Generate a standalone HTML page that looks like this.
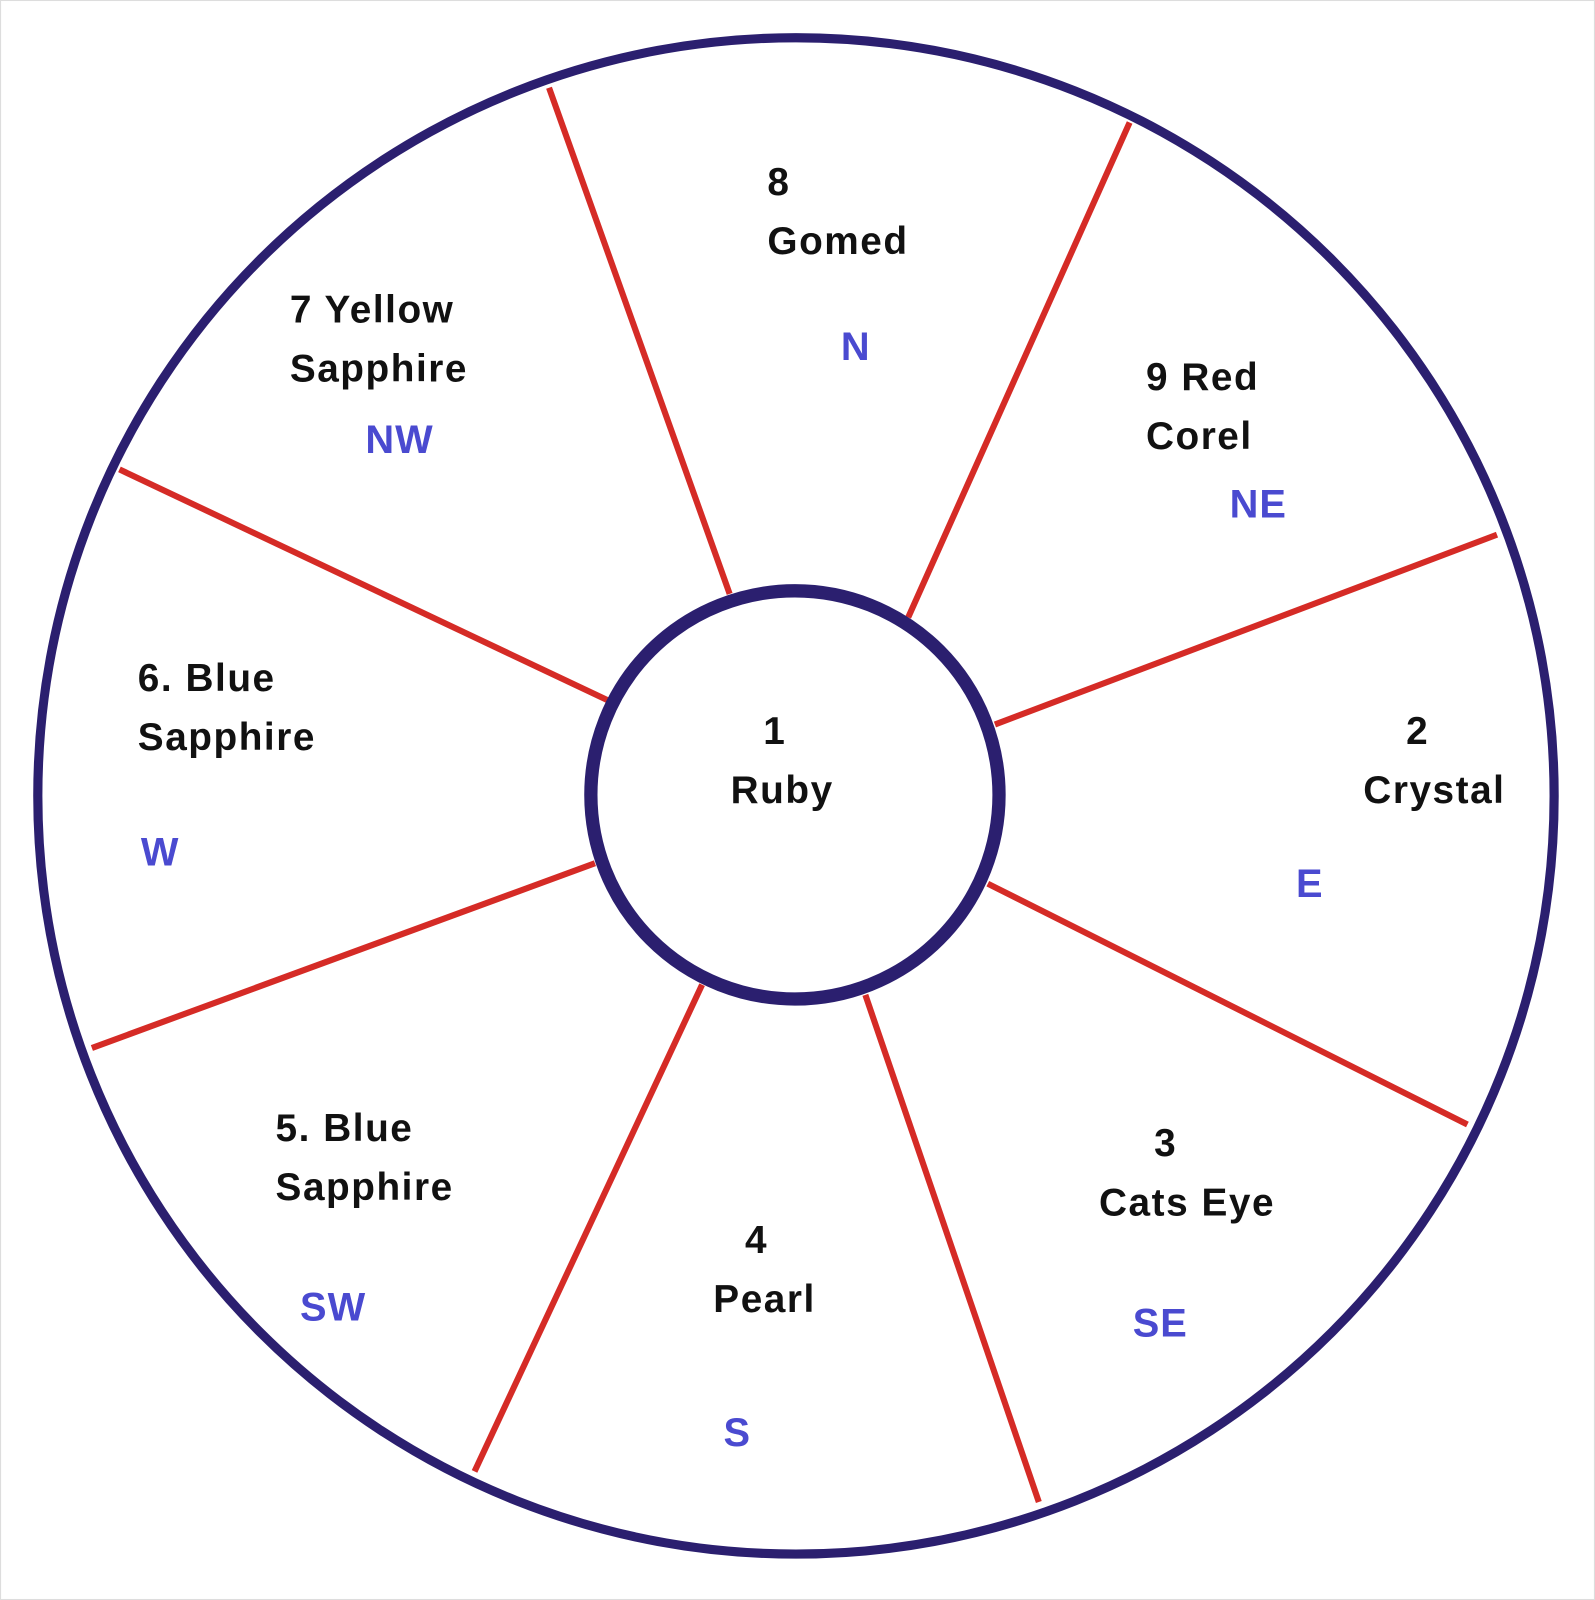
<!DOCTYPE html>
<html><head><meta charset="utf-8"><style>
html,body{margin:0;padding:0;background:#fff;}
svg{display:block;}
text{font-family:"Liberation Sans",sans-serif;font-weight:bold;}
.lbl{font-size:38px;fill:#111;letter-spacing:1.5px;}
.dir{font-size:39px;fill:#4a4ad0;letter-spacing:1px;}
</style></head><body>
<svg width="1595" height="1600" viewBox="0 0 1563 1568" xmlns="http://www.w3.org/2000/svg">
<rect x="0" y="0" width="1563" height="1568" fill="#fff" stroke="#ddd" stroke-width="2"/>
<g stroke="#d52b26" stroke-width="6">
<line x1="715" y1="582" x2="538" y2="86"/>
<line x1="890" y1="605" x2="1107" y2="120"/>
<line x1="975" y1="710" x2="1467" y2="524"/>
<line x1="968" y1="866" x2="1438" y2="1102"/>
<line x1="848" y1="975" x2="1018" y2="1472"/>
<line x1="688" y1="965" x2="465" y2="1442"/>
<line x1="583" y1="846" x2="90" y2="1027"/>
<line x1="595" y1="686" x2="117" y2="460"/>
</g>
<circle cx="780" cy="780" r="743" fill="none" stroke="#2b1f6f" stroke-width="9"/>
<circle cx="779" cy="779" r="200" fill="#fff" stroke="#2b1f6f" stroke-width="13"/>
<g class="lbl">
<text x="752" y="191">8</text>
<text x="752" y="249">Gomed</text>
<text x="284" y="316">7 Yellow</text>
<text x="284" y="374">Sapphire</text>
<text x="1123" y="382">9 Red</text>
<text x="1123" y="440">Corel</text>
<text x="135" y="677">6. Blue</text>
<text x="135" y="735">Sapphire</text>
<text x="748" y="729">1</text>
<text x="716" y="787">Ruby</text>
<text x="1378" y="729">2</text>
<text x="1336" y="787">Crystal</text>
<text x="270" y="1118">5. Blue</text>
<text x="270" y="1176">Sapphire</text>
<text x="1131" y="1133">3</text>
<text x="1077" y="1191">Cats Eye</text>
<text x="730" y="1228">4</text>
<text x="699" y="1286">Pearl</text>
</g>
<g class="dir">
<text x="824" y="353">N</text>
<text x="358" y="444">NW</text>
<text x="1205" y="507">NE</text>
<text x="138" y="848">W</text>
<text x="1270" y="879">E</text>
<text x="294" y="1294">SW</text>
<text x="1110" y="1310">SE</text>
<text x="709" y="1417">S</text>
</g>
</svg>
</body></html>
